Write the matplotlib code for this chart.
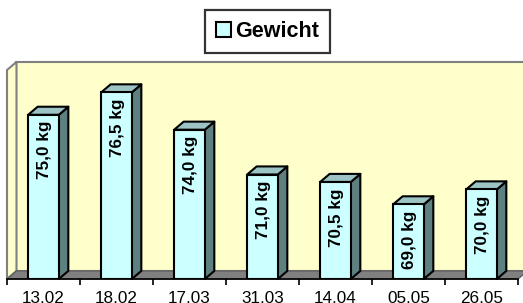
import matplotlib.pyplot as plt
from matplotlib.patches import Polygon, Patch

dates = ['13.02', '18.02', '17.03', '31.03', '14.04', '05.05', '26.05']
weights = [75.0, 76.5, 74.0, 71.0, 70.5, 69.0, 70.0]
series_name = 'Gewicht'
y_min, y_max = 64, 78

plt.rcParams['font.family'] = ['Liberation Sans', 'DejaVu Sans']

# fake 3d depth, in data units
DX = 0.13
DY = 0.54
bar_w = 0.42

front_col = '#ccffff'
side_col = '#5f8080'
top_col = '#9cc4c4'
wall_col = '#ffffcc'
grey = '#808080'

fig = plt.figure(figsize=(5.23, 3.03), dpi=100)
ax = fig.add_axes([7 / 523, 24 / 303, 511 / 523, 209 / 303])
ax.set_xlim(-0.5, len(dates) - 0.5)
ax.set_ylim(y_min, y_max)
ax.patch.set_visible(False)

x0, x1 = -0.5, len(dates) - 0.5

# walls and floor
back = Polygon([(x0 + DX, y_min + DY), (x1 + DX, y_min + DY),
                (x1 + DX, y_max + DY), (x0 + DX, y_max + DY)],
               closed=True, facecolor=wall_col, edgecolor=grey, lw=1.5,
               clip_on=False, zorder=0)
left = Polygon([(x0, y_min), (x0 + DX, y_min + DY),
                (x0 + DX, y_max + DY), (x0, y_max)],
               closed=True, facecolor=wall_col, edgecolor=grey, lw=1.5,
               clip_on=False, zorder=0.5)
floor = Polygon([(x0, y_min), (x1, y_min), (x1 + DX, y_min + DY),
                 (x0 + DX, y_min + DY)],
                closed=True, facecolor=grey, edgecolor='#606060', lw=1,
                clip_on=False, zorder=0.6)
for p in (back, left, floor):
    ax.add_patch(p)

xs = list(range(len(dates)))
for x, v in zip(xs, weights):
    r = x + bar_w / 2
    l = x - bar_w / 2
    side = Polygon([(r, y_min), (r, v), (r + DX, v + DY), (r + DX, y_min + DY)],
                   closed=True, facecolor=side_col, edgecolor='black', lw=1.5,
                   joinstyle='round', clip_on=False, zorder=2)
    top = Polygon([(l, v), (r, v), (r + DX, v + DY), (l + DX, v + DY)],
                  closed=True, facecolor=top_col, edgecolor='black', lw=1.5,
                  joinstyle='round', clip_on=False, zorder=2)
    ax.add_patch(side)
    ax.add_patch(top)

ax.bar(xs, [v - y_min for v in weights], bottom=y_min, width=bar_w,
       color=front_col, edgecolor='black', linewidth=1.5, zorder=3)

for x, v in zip(xs, weights):
    label = f'{v:.1f}'.replace('.', ',') + ' kg'
    ax.annotate(label, (x, v), xytext=(0.5, -4.5), textcoords='offset points',
                rotation=90, ha='center', va='top', fontsize=12.3,
                fontweight='bold', zorder=4)

# axis
for s in ('left', 'top', 'right'):
    ax.spines[s].set_visible(False)
ax.spines['bottom'].set_color('black')
ax.spines['bottom'].set_linewidth(1.2)
ax.spines['bottom'].set_zorder(5)
ax.set_yticks([])
ax.set_xticks(xs)
ax.set_xticklabels(dates, fontsize=12.3)
ax.tick_params(axis='x', which='major', length=0, pad=8.5)
ax.set_xticks([i - 0.5 for i in range(len(dates) + 1)], minor=True)
ax.tick_params(axis='x', which='minor', length=4, width=1.2, color='black')

handle = Patch(facecolor=front_col, edgecolor='black', linewidth=1.5)
leg = fig.legend([handle], [series_name], loc='center',
                 bbox_to_anchor=(0.511, 0.896), fancybox=False, shadow=False,
                 prop={'weight': 'bold', 'size': 15.5}, handlelength=0.7,
                 handleheight=0.7, handletextpad=0.2, borderpad=0.5,
                 borderaxespad=0)
leg.get_frame().set_edgecolor('black')
leg.get_frame().set_linewidth(1.6)

fig.savefig('out.png', dpi=100)
